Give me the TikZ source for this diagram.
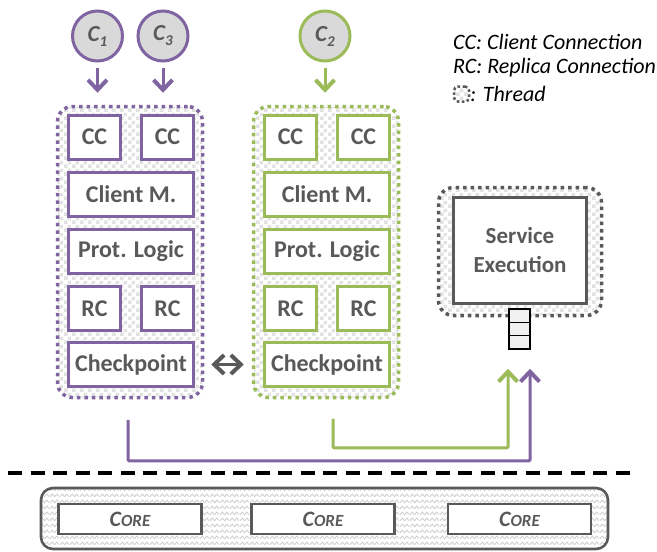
\documentclass[tikz,border=0pt]{standalone}
\usepackage{fontspec}
\setmainfont{Carlito}
\usetikzlibrary{arrows.meta,patterns.meta,calc}

\definecolor{thpurple}{HTML}{8064A2}
\definecolor{thgreen}{HTML}{9BBB59}
\definecolor{thgray}{HTML}{595959}
\definecolor{circfill}{HTML}{D9D9D9}
\definecolor{checkgray}{HTML}{E2E2E2}
\definecolor{zigzaggray}{HTML}{CFCFCF}

% checkered fill for thread regions
\tikzdeclarepattern{
  name=threadchecks, type=uncolored,
  bottom left={(0pt,0pt)}, top right={(8pt,8pt)}, tile size={(8pt,8pt)},
  code={
    \fill (0pt,0pt) rectangle (4pt,4pt);
    \fill (4pt,4pt) rectangle (8pt,8pt);
  }
}
% wavy fill for the core area
\tikzdeclarepattern{
  name=corezigzag, type=uncolored,
  bottom left={(0pt,0pt)}, top right={(10pt,6pt)}, tile size={(10pt,6pt)},
  code={
    \draw[line width=1pt] (0pt,1.5pt) -- (2.5pt,4.5pt) -- (5pt,1.5pt) -- (7.5pt,4.5pt) -- (10pt,1.5pt);
  }
}

\tikzset{
  x=1pt, y=-1pt,
  lbl/.style={font=\fontsize{24}{26}\selectfont\bfseries, text=thgray},
  unitbox/.style={draw=#1, line width=3pt, fill=white, rectangle, inner sep=0pt, lbl},
  smallbox/.style={unitbox=#1, minimum width=52pt, minimum height=44pt},
  widebox/.style={unitbox=#1, minimum width=125pt, minimum height=44pt},
  threadbox/.style={draw=#1, line width=3.5pt, dash pattern=on 3.5pt off 4pt,
    rounded corners=15pt, rectangle, inner sep=0pt,
    pattern={threadchecks}, pattern color=checkgray},
  client/.style={circle, draw=#1, line width=3pt, fill=circfill, minimum size=50pt,
    inner sep=0pt, font=\fontsize{23}{23}\selectfont\bfseries\itshape, text=thgray},
  flow/.style={line width=3pt, draw=#1,
    -{Straight Barb[length=10pt,width=19pt,line width=4pt]}},
  flowline/.style={line width=3pt, draw=#1, rounded corners=1pt,
    -{Straight Barb[length=10pt,width=19pt,line width=4pt]}},
  qcell/.style={draw=black, line width=1.6pt, fill=black!6, rectangle,
    minimum width=21pt, minimum height=13.3pt, inner sep=0pt},
  corebox/.style={draw=thgray, line width=2.6pt, fill=white, rectangle,
    minimum width=143pt, minimum height=30pt, inner sep=0pt,
    font=\bfseries\itshape, text=thgray},
  legend/.style={anchor=west, inner sep=0pt, font=\fontsize{22}{22}\selectfont\itshape}
}

\newcommand{\corelabel}{{\fontsize{22}{22}\selectfont C}{\fontsize{17}{17}\selectfont ORE}}
\newcommand{\clientlabel}[1]{C\raisebox{-5pt}{\fontsize{15}{15}\selectfont #1}}

\begin{document}
\begin{tikzpicture}
\useasboundingbox (0,0) rectangle (657,552);

% ---- thread containers ----
\node[threadbox=thpurple, minimum width=145pt, minimum height=291pt] (t1) at (130,252) {};
\node[threadbox=thgreen,  minimum width=145pt, minimum height=291pt] (t2) at (326,252) {};
\node[threadbox=thgray,   minimum width=163pt, minimum height=128pt] (t3) at (520,251.5) {};

% ---- replica 1 (purple) ----
\node[smallbox=thpurple] (cc1a) at (94.5,137) {CC};
\node[smallbox=thpurple] (cc1b) at (167.5,137) {CC};
\node[widebox=thpurple]  (cm1)  at (131,194) {Client M.};
\node[widebox=thpurple]  (pl1)  at (131,251.5) {Prot. Logic};
\node[smallbox=thpurple] (rc1a) at (94.5,308.5) {RC};
\node[smallbox=thpurple] (rc1b) at (167.5,308.5) {RC};
\node[widebox=thpurple]  (cp1)  at (131,364.5) {Checkpoint};

% ---- replica 2 (green) ----
\node[smallbox=thgreen] (cc2a) at (290.5,137) {CC};
\node[smallbox=thgreen] (cc2b) at (363.5,137) {CC};
\node[widebox=thgreen]  (cm2)  at (327,194) {Client M.};
\node[widebox=thgreen]  (pl2)  at (327,251.5) {Prot. Logic};
\node[smallbox=thgreen] (rc2a) at (290.5,308.5) {RC};
\node[smallbox=thgreen] (rc2b) at (363.5,308.5) {RC};
\node[widebox=thgreen]  (cp2)  at (327,364.5) {Checkpoint};

% ---- clients ----
\node[client=thpurple] (c1) at (97.5,36) {\clientlabel{1}};
\node[client=thpurple] (c3) at (163,36) {\clientlabel{3}};
\node[client=thgreen]  (c2) at (325,36) {\clientlabel{2}};

\draw[flow=thpurple, shorten <=5pt, shorten >=12pt] (c1.south) -- (c1.south |- t1.north);
\draw[flow=thpurple, shorten <=5pt, shorten >=12pt] (c3.south) -- (c3.south |- t1.north);
\draw[flow=thgreen,  shorten <=5pt, shorten >=12pt] (c2.south) -- (c2.south |- t2.north);

% ---- checkpoint exchange ----
\draw[line width=3pt, draw=thgray,
  {Straight Barb[length=10pt,width=19pt,line width=4pt]}-{Straight Barb[length=10pt,width=19pt,line width=4pt]},
  shorten <=7pt, shorten >=8pt]
  (cp1.east -| t1.east) -- (cp2.west -| t2.west);

% ---- service execution ----
\node[draw=thgray, line width=3pt, fill=white, minimum width=133pt, minimum height=106pt,
  inner sep=0pt, align=center, lbl, font=\fontsize{23}{29}\selectfont\bfseries]
  (se) at (520,250.5) {Service\\Execution};
\node[qcell] (q1) at (519.5,315.7) {};
\node[qcell] (q2) at (519.5,329) {};
\node[qcell] (q3) at (519.5,342.3) {};

% ---- requests to execution ----
\draw[flowline=thgreen] ([xshift=7pt,yshift=-19.5pt]t2.south) -- ++(0,29)
  -| ([xshift=-11.5pt,yshift=-19pt]q3.south);
\draw[flowline=thpurple] ([xshift=-2pt,yshift=-20.5pt]t1.south) -- ++(0,41)
  -| ([xshift=10.5pt,yshift=-19pt]q3.south);

% ---- user/kernel separation ----
\coordinate (sepL) at (8,473);
\coordinate (sepR) at (634,473);
\draw[line width=3.5pt, dash pattern=on 14pt off 8.5pt] (sepL) -- (sepR);

% ---- cores ----
\node[draw=thgray, line width=2.6pt, rounded corners=12pt, rectangle, inner sep=0pt,
  minimum width=567pt, minimum height=61pt,
  pattern={corezigzag}, pattern color=zigzaggray] (hw) at (324.5,518.5) {};
\node[corebox] (core1) at (130,519) {\corelabel};
\node[corebox] (core2) at (323,519) {\corelabel};
\node[corebox] (core3) at (519.5,519) {\corelabel};

% ---- legend ----
\node[legend] (lg1) at (453,42) {CC: Client Connection};
\node[legend] (lg2) at (453,68) {RC: Replica Connection};
\node[threadbox=thgray, line width=2.5pt, dash pattern=on 2.5pt off 2.5pt,
  rounded corners=4pt, minimum width=15pt, minimum height=15pt] (lgicon) at (461.5,94) {};
\node[legend] (lg3) at (lgicon.east) {: Thread};
\end{tikzpicture}
\end{document}
